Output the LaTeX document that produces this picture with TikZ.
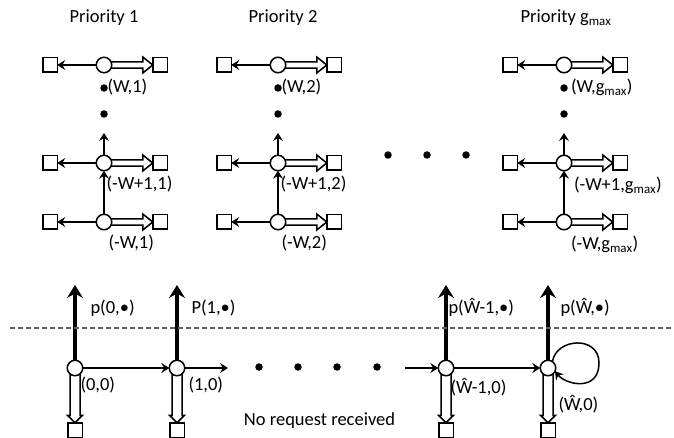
\documentclass[tikz,border=0pt]{standalone}
\usepackage{fontspec}
\setmainfont{Carlito}
\usetikzlibrary{arrows.meta,calc}
\pgfdeclarelayer{bg}
\pgfsetlayers{bg,main}
\begin{document}
\begin{tikzpicture}[x=1pt,y=-1pt,
  font=\fontsize{18.5}{22}\selectfont,
  state/.style={circle,draw,line width=1.5pt,fill=white,minimum size=15.5pt,inner sep=0pt,outer sep=0pt},
  sink/.style={rectangle,draw,line width=1.5pt,fill=white,minimum size=14.5pt,inner sep=0pt,outer sep=0pt},
  dotn/.style={circle,fill=black,minimum size=7.5pt,inner sep=0pt,outer sep=0pt},
  lbl/.style={anchor=base west,inner sep=0pt,outer sep=0pt},
  tarrow/.style={line width=1.5pt,-{Stealth[length=8pt,width=10pt,inset=3pt]}},
  tharrow/.style={line width=4pt,-{Stealth[length=13pt,width=16pt,inset=4.5pt]}},
  blockR/.style={line width=1.5pt,fill=white,line join=miter,
    to path={let \p1=(\tikztostart.center), \p2=(\tikztotarget.west) in
      (\x1,\y1+3.1pt) -- (\x2-10pt,\y1+3.1pt) -- (\x2-10pt,\y1+8pt) -- (\x2,\y1)
      -- (\x2-10pt,\y1-8pt) -- (\x2-10pt,\y1-3.1pt) -- (\x1,\y1-3.1pt) -- cycle}},
  blockD/.style={line width=1.5pt,fill=white,line join=miter,
    to path={let \p1=(\tikztostart.center), \p2=(\tikztotarget.north) in
      (\x1-5pt,\y1) -- (\x1-5pt,\y2+7.5pt) -- (\x1-7.5pt,\y2+7.5pt) -- (\x1,\y2)
      -- (\x1+7.5pt,\y2+7.5pt) -- (\x1+5pt,\y2+7.5pt) -- (\x1+5pt,\y1) -- cycle}},
  dashline/.style={line width=1.2pt,gray!75!black,dash pattern=on 5pt off 3pt}
]
\useasboundingbox (0,0) rectangle (674,438);

% ---------- titles ----------
\node[anchor=base,inner sep=0pt] (t1) at (104,23) {Priority 1};
\node[anchor=base,inner sep=0pt] (t2) at (283,23) {Priority 2};
\node[anchor=base,inner sep=0pt] (t3) at (566,23) {Priority g\textsubscript{max}};

% ---------- priority gadgets ----------
\foreach \cc/\nn in {104/a,278/b,564/c}{
  \foreach \rr/\yy in {1/65,2/163,3/222}{
    \edef\cur{\nn\rr}\edef\curL{\nn L\rr}\edef\curR{\nn R\rr}
    \node[state] (\cur) at (\cc,\yy) {};
    \node[sink] (\curL) at (\cc-54,\yy) {};
    \node[sink] (\curR) at (\cc+56,\yy) {};
    \begin{pgfonlayer}{bg}
      \draw[tarrow] (\cur) -- (\curL);
      \edef\doblock{\noexpand\draw[blockR] (\cur) to (\curR);}
      \doblock
    \end{pgfonlayer}
  }
  \node[dotn] (\nn d1) at (\cc,88) {};
  \node[dotn] (\nn d2) at (\cc,114) {};
  \coordinate (\nn up) at (\cc,133);
  \begin{pgfonlayer}{bg}
    \draw[tarrow] (\nn3) -- (\nn2);
    \draw[tarrow] (\nn2) -- (\nn up);
  \end{pgfonlayer}
}

% gadget labels
\node[lbl] (la1) at (107.5,93) {(W,1)};
\node[lbl] (la2) at (106.5,190) {(-W+1,1)};
\node[lbl] (la3) at (108.5,248) {(-W,1)};
\node[lbl] (lb1) at (281.5,93) {(W,2)};
\node[lbl] (lb2) at (280.5,190) {(-W+1,2)};
\node[lbl] (lb3) at (281.5,248) {(-W,2)};
\node[lbl] (lc1) at (571,93) {(W,g\textsubscript{max})};
\node[lbl] (lc2) at (574,191) {(-W+1,g\textsubscript{max})};
\node[lbl] (lc3) at (571,250) {(-W,g\textsubscript{max})};

% middle dots
\node[dotn] (m1) at (388,155) {};
\node[dotn] (m2) at (427,155) {};
\node[dotn] (m3) at (466,155) {};

% ---------- dashed separator ----------
\coordinate (dl) at (10,328);
\coordinate (dr) at (674,328);
\draw[dashline] (dl) -- (dr);

% ---------- bottom chain ----------
\node[state] (s0) at (75,368) {};
\node[state] (s1) at (177,368) {};
\node[state] (sW1) at (446,368) {};
\node[state] (sW) at (548,368) {};
\foreach \ss in {s0,s1,sW1,sW}{
  \node[sink] (\ss q) at ($(\ss)+(0,62)$) {};
  \coordinate (\ss t) at ($(\ss)+(0,-83)$);
  \begin{pgfonlayer}{bg}
    \edef\doblock{\noexpand\draw[blockD] (\ss) to (\ss q);}
    \doblock
    \draw[tharrow] (\ss) -- (\ss t);
  \end{pgfonlayer}
}

\coordinate (e1) at (228,368);
\coordinate (e2) at (405,368);
\begin{pgfonlayer}{bg}
  \draw[tarrow] (s0) -- (s1);
  \draw[tarrow] (s1) -- (e1);
  \draw[tarrow] (e2) -- (sW1);
  \draw[tarrow] (sW1) -- (sW);
\end{pgfonlayer}
% self loop
\coordinate (lp) at (599,363);
\draw[tarrow] (sW.55) .. controls (556,338) and (599,335) .. (lp)
  .. controls (599,392) and (566,385) .. (sW.-25);

\node[dotn] (n1) at (259,367) {};
\node[dotn] (n2) at (298,367) {};
\node[dotn] (n3) at (337,367) {};
\node[dotn] (n4) at (377,367) {};

% bottom labels
\node[lbl] (p0) at (90.5,313) {p(0,•)};
\node[lbl] (p1) at (191.5,313) {P(1,•)};
\node[lbl] (pW1) at (448.5,313) {p(Ŵ-1,•)};
\node[lbl] (pW) at (560.5,313) {p(Ŵ,•)};
\node[lbl] (l00) at (80.5,390) {(0,0)};
\node[lbl] (l10) at (188.5,390) {(1,0)};
\node[lbl] (lW1) at (450.5,393) {(Ŵ-1,0)};
\node[lbl] (lW) at (558.5,410) {(Ŵ,0)};
\node[anchor=base,inner sep=0pt] (nr) at (319.5,425) {No request received};
\end{tikzpicture}
\end{document}
